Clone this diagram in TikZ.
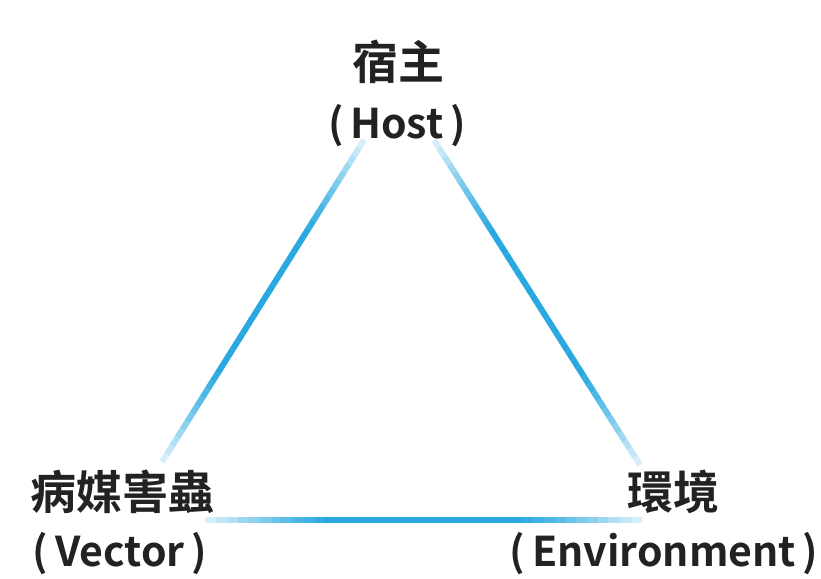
\documentclass[tikz,border=0pt]{standalone}
\usepackage{fontspec}
\setmainfont{Noto Sans CJK TC}[BoldFont={Noto Sans CJK TC Bold}]
\usetikzlibrary{calc}
\definecolor{lineblue}{HTML}{29A8E0}
\definecolor{txt}{HTML}{222222}
\tikzset{
  lbl/.style={font=\fontsize{46}{50}\selectfont\bfseries, text=txt, inner sep=0pt, anchor=center},
  lblen/.style={font=\fontsize{41}{46}\selectfont\bfseries, text=txt, inner sep=0pt, anchor=center},
}
\newcommand{\gradline}[2]{%
  \foreach \i in {0,...,39}{%
    \pgfmathsetmacro{\ta}{\i/40}%
    \pgfmathsetmacro{\tb}{(\i+1)/40}%
    \pgfmathsetmacro{\pc}{min(100,15+110*sin(180*(\i+0.5)/40))}%
    \colorlet{segc}{lineblue!\pc!white}%
    \draw[segc, line width=6pt, line cap=butt] ($(#1)!\ta!(#2)$) -- ($(#1)!\tb!(#2)$);
  }%
}
\begin{document}
\begin{tikzpicture}[x=1pt,y=-1pt]
\useasboundingbox (0,0) rectangle (821,578);
\fill[white] (0,0) rectangle (821,578);
\coordinate (hL) at (364,140);
\coordinate (hR) at (434,140);
\coordinate (vT) at (162,462);
\coordinate (vR) at (205,520);
\coordinate (eT) at (640,465);
\coordinate (eL) at (642,520);
\gradline{hL}{vT}
\gradline{hR}{eT}
\gradline{vR}{eL}
\node[lbl] (host) at (398,62) {宿主};
\node[lblen] (hosten) at (397,126) {(\,Host\,)};
\node[lbl] (vec) at (122,492) {病媒害蟲};
\node[lblen] (vecen) at (120,554) {(\,Vector\,)};
\node[lbl] (env) at (673,492) {環境};
\node[lblen] (envn) at (664,554) {(\,Environment\,)};
\end{tikzpicture}
\end{document}
